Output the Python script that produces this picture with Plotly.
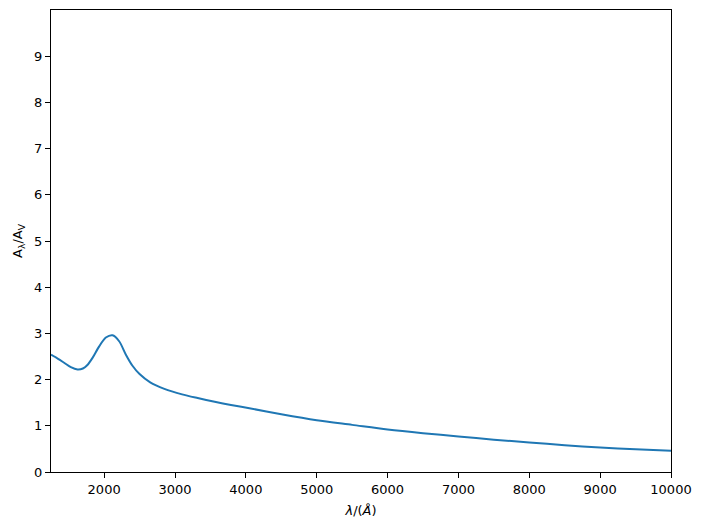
import plotly.graph_objects as go

# wavelength in Angstrom and extinction ratio
wavelength = [1250, 1350, 1440, 1530, 1624, 1700, 1760, 1836, 1930, 2024,
              2118, 2212, 2307, 2400, 2500, 2650, 2850, 3100, 3320, 3560,
              3790, 4050, 4500, 5000, 5500, 6000, 6500, 7000, 7500, 8000,
              8500, 9000, 9500, 10000]
a_ratio = [2.54, 2.45, 2.36, 2.27, 2.22, 2.24, 2.31, 2.47, 2.72, 2.91,
           2.96, 2.83, 2.54, 2.30, 2.12, 1.94, 1.80, 1.68, 1.60, 1.52,
           1.45, 1.38, 1.25, 1.12, 1.02, 0.92, 0.84, 0.77, 0.70, 0.64,
           0.58, 0.53, 0.49, 0.46]

y_ticks = list(range(0, 10))
x_ticks = list(range(2000, 10001, 1000))

fig = go.Figure()
fig.add_trace(go.Scatter(
    x=wavelength, y=a_ratio, mode="lines",
    line=dict(color="#1f77b4", width=2, shape="spline", smoothing=0.8),
    showlegend=False,
))

axis_style = dict(
    showgrid=False, zeroline=False, showline=True, linecolor="black",
    linewidth=1, mirror=True, ticks="outside", ticklen=5, tickwidth=1,
    tickcolor="black", tickfont=dict(size=13, color="black"),
)
fig.update_xaxes(range=[1250, 10000], tickvals=x_ticks,
                 ticktext=[str(t) for t in x_ticks],
                 title=dict(text="<i>λ</i>/(<i>Å</i>)", standoff=10,
                            font=dict(size=13, color="black")),
                 **axis_style)
fig.update_yaxes(range=[0, 10], tickvals=y_ticks,
                 ticktext=[str(t) for t in y_ticks],
                 title=dict(text="A<sub>λ</sub>/A<sub>V</sub>", standoff=8,
                            font=dict(size=13, color="black")),
                 **axis_style)
fig.update_layout(
    width=702, height=529,
    margin=dict(l=51, r=31, t=10, b=57),
    paper_bgcolor="white", plot_bgcolor="white",
    font=dict(family="DejaVu Sans", size=13, color="black"),
)
# drop the browser's default body margin so the figure sits at the page corner
fig.write_html("out.html", config={"displayModeBar": False},
               post_script="document.body.style.margin='0';")
